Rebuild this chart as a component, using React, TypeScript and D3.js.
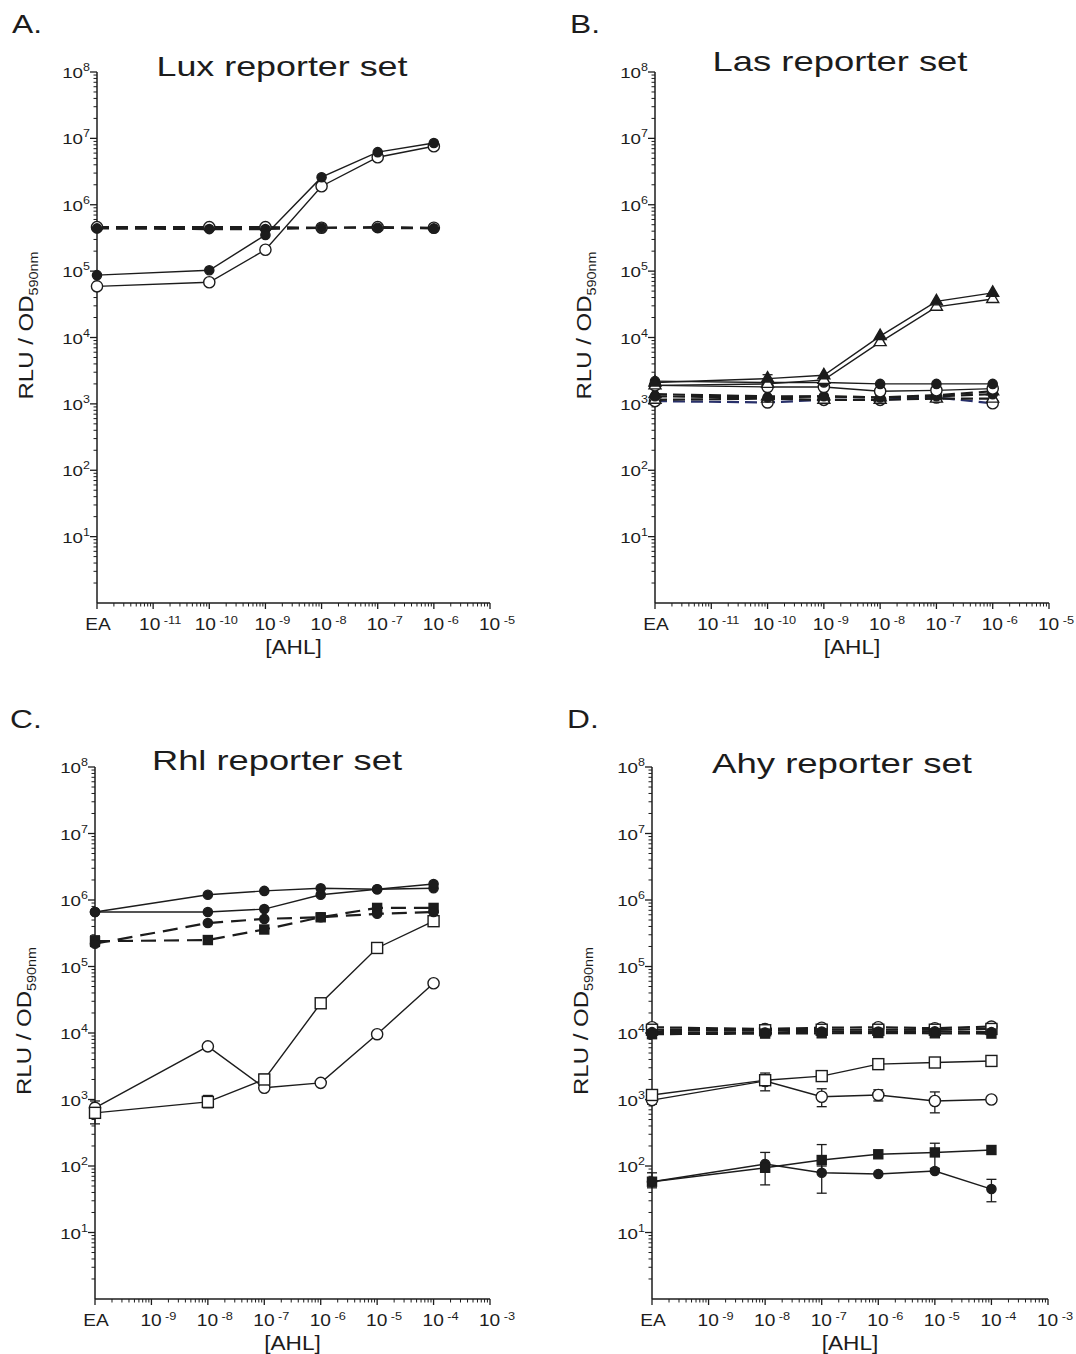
import React from "react";
import * as d3 from "d3";

const FONT = "'Liberation Sans', Arial, Helvetica, sans-serif";
const INK = "#1c1c1c";
const SX = 1.25; // the scanned figure is a little wider than it is tall

type Dose = string | number;
type Err = ([number, number] | null)[];

// doses on the x axis (EA = solvent control, drawn at the left end)
const luxLasDoses: Dose[] = ["EA", 1e-10, 1e-9, 1e-8, 1e-7, 1e-6];
const rhlAhyDoses: Dose[] = ["EA", 1e-8, 1e-7, 1e-6, 1e-5, 1e-4];
const luxLasTicks: Dose[] = ["EA", -11, -10, -9, -8, -7, -6, -5];
const rhlAhyTicks: Dose[] = ["EA", -9, -8, -7, -6, -5, -4, -3];
const yTickExps = [1, 2, 3, 4, 5, 6, 7, 8];

// A. Lux
const luxFilledSolid = [8.7e4, 1.03e5, 3.5e5, 2.6e6, 6.2e6, 8.5e6];
const luxOpenSolid = [5.9e4, 6.8e4, 2.1e5, 1.9e6, 5.2e6, 7.6e6];
const luxOpenDashed = [4.6e5, 4.6e5, 4.6e5, 4.5e5, 4.6e5, 4.5e5];
const luxFilledDashed = [4.4e5, 4.3e5, 4.3e5, 4.5e5, 4.5e5, 4.4e5];

// B. Las
const lasFilledTriSolid = [2.1e3, 2.4e3, 2.7e3, 1.05e4, 3.5e4, 4.7e4];
const lasFilledTriSolidErr: Err = [null, [2.2e3, 2.75e3], null, null, null, null];
const lasOpenTriSolid = [1.9e3, 2.0e3, 2.3e3, 8.5e3, 2.9e4, 3.8e4];
const lasFilledCircSolid = [2.2e3, 2.1e3, 2.1e3, 2.0e3, 2.0e3, 2.0e3];
const lasOpenCircSolid = [1.9e3, 1.8e3, 1.8e3, 1.55e3, 1.6e3, 1.7e3];
const lasFilledTriDashed = [1.4e3, 1.3e3, 1.3e3, 1.25e3, 1.35e3, 1.55e3];
const lasFilledCircDashed = [1.3e3, 1.25e3, 1.3e3, 1.25e3, 1.3e3, 1.4e3];
const lasOpenTriDashed = [1.15e3, 1.2e3, 1.15e3, 1.15e3, 1.2e3, 1.2e3];
const lasOpenCircDashed = [1.1e3, 1.05e3, 1.15e3, 1.15e3, 1.25e3, 1.02e3];

// C. Rhl
const rhlFilledCircSolidHi = [6.6e5, 1.2e6, 1.37e6, 1.5e6, 1.45e6, 1.74e6];
const rhlFilledCircSolidLo = [6.6e5, 6.6e5, 7.3e5, 1.2e6, 1.45e6, 1.5e6];
const rhlFilledCircDashed = [2.2e5, 4.5e5, 5.2e5, 5.5e5, 6.2e5, 6.6e5];
const rhlFilledSqDashed = [2.4e5, 2.5e5, 3.6e5, 5.5e5, 7.6e5, 7.6e5];
const rhlFilledSqDashedErr: Err = [[2.0e5, 2.9e5], null, null, [5.0e5, 6.2e5], null, null];
const rhlOpenSqSolid = [6.3e2, 9.2e2, 2.0e3, 2.8e4, 1.9e5, 4.8e5];
const rhlOpenSqSolidErr: Err = [[4.3e2, 9.5e2], [7.5e2, 1.15e3], [1.7e3, 2.4e3], null, null, null];
const rhlOpenCircSolid = [7.5e2, 6.3e3, 1.5e3, 1.78e3, 9.6e3, 5.6e4];

// D. Ahy
const ahyOpenCircDashed = [1.22e4, 1.15e4, 1.2e4, 1.22e4, 1.18e4, 1.25e4];
const ahyOpenSqDashed = [1.12e4, 1.1e4, 1.12e4, 1.12e4, 1.12e4, 1.15e4];
const ahyFilledCircDashed = [1.03e4, 1.02e4, 1.05e4, 1.05e4, 1.06e4, 1.03e4];
const ahyFilledSqDashed = [9.6e3, 9.8e3, 9.9e3, 1.0e4, 9.9e3, 9.8e3];
const ahyOpenSqSolid = [1.17e3, 1.95e3, 2.25e3, 3.4e3, 3.6e3, 3.8e3];
const ahyOpenCircSolid = [9.8e2, 1.9e3, 1.1e3, 1.17e3, 9.5e2, 1.0e3];
const ahyOpenCircSolidErr: Err = [[8.5e2, 1.2e3], [1.35e3, 2.5e3], [7.8e2, 1.45e3], [9.5e2, 1.4e3], [6.3e2, 1.3e3], null];
const ahyFilledSqSolid = [58, 94, 123, 150, 160, 174];
const ahyFilledSqSolidErr: Err = [null, null, [80, 210], null, [92, 220], null];
const ahyFilledCircSolid = [58, 107, 79, 76, 84, 45];
const ahyFilledCircSolidErr: Err = [[47, 79], [52, 160], [39, 100], null, null, [29, 63]];

type Shape = "circle" | "square" | "triangle";
interface SeriesSpec {
  values: number[];
  err?: Err;
  shape: Shape;
  filled: boolean;
  dashed: boolean;
  color?: string;
}
interface PanelSpec {
  letter: string;
  title: string;
  titleX: number;
  titleY: number;
  titleW: number;
  ox: number;
  xEnd: number;
  yBottom: number;
  yTop: number;
  minExp: number;
  maxExp: number;
  doses: Dose[];
  ticks: Dose[];
  dash: string;
  series: SeriesSpec[];
}

const s = (values: number[], shape: Shape, filled: boolean, dashed: boolean, err?: Err, color?: string): SeriesSpec =>
  ({ values, shape, filled, dashed, err, color });

const panels: PanelSpec[] = [
  {
    letter: "A.", title: "Lux reporter set", titleX: 282, titleY: 76, titleW: 251,
    ox: 97, xEnd: 490, yBottom: 603, yTop: 72, minExp: -12, maxExp: -5,
    doses: luxLasDoses, ticks: luxLasTicks, dash: "12 7",
    series: [
      s(luxOpenDashed, "circle", false, true),
      s(luxFilledDashed, "circle", true, true),
      s(luxOpenSolid, "circle", false, false),
      s(luxFilledSolid, "circle", true, false),
    ],
  },
  {
    letter: "B.", title: "Las reporter set", titleX: 840, titleY: 71, titleW: 255,
    ox: 655, xEnd: 1049, yBottom: 603, yTop: 72, minExp: -12, maxExp: -5,
    doses: luxLasDoses, ticks: luxLasTicks, dash: "12 6",
    series: [
      s(lasOpenCircDashed, "circle", false, true, undefined, "#28306a"),
      s(lasOpenTriDashed, "triangle", false, true),
      s(lasFilledCircDashed, "circle", true, true),
      s(lasFilledTriDashed, "triangle", true, true),
      s(lasOpenCircSolid, "circle", false, false),
      s(lasFilledCircSolid, "circle", true, false),
      s(lasOpenTriSolid, "triangle", false, false),
      s(lasFilledTriSolid, "triangle", true, false, lasFilledTriSolidErr),
    ],
  },
  {
    letter: "C.", title: "Rhl reporter set", titleX: 277, titleY: 770, titleW: 250,
    ox: 95, xEnd: 490, yBottom: 1299, yTop: 767, minExp: -10, maxExp: -3,
    doses: rhlAhyDoses, ticks: rhlAhyTicks, dash: "15 8",
    series: [
      s(rhlOpenCircSolid, "circle", false, false),
      s(rhlOpenSqSolid, "square", false, false, rhlOpenSqSolidErr),
      s(rhlFilledSqDashed, "square", true, true, rhlFilledSqDashedErr),
      s(rhlFilledCircDashed, "circle", true, true),
      s(rhlFilledCircSolidLo, "circle", true, false),
      s(rhlFilledCircSolidHi, "circle", true, false),
    ],
  },
  {
    letter: "D.", title: "Ahy reporter set", titleX: 842, titleY: 773, titleW: 260,
    ox: 652, xEnd: 1048, yBottom: 1299, yTop: 767, minExp: -10, maxExp: -3,
    doses: rhlAhyDoses, ticks: rhlAhyTicks, dash: "12 6",
    series: [
      s(ahyOpenCircDashed, "circle", false, true),
      s(ahyOpenSqDashed, "square", false, true),
      s(ahyFilledCircDashed, "circle", true, true),
      s(ahyFilledSqDashed, "square", true, true),
      s(ahyOpenCircSolid, "circle", false, false, ahyOpenCircSolidErr),
      s(ahyOpenSqSolid, "square", false, false),
      s(ahyFilledCircSolid, "circle", true, false, ahyFilledCircSolidErr),
      s(ahyFilledSqSolid, "square", true, false, ahyFilledSqSolidErr),
    ],
  },
];

function T({ x, y, size, anchor = "start", rotate = 0, sx = SX, children }: any) {
  return (
    <g transform={`translate(${x},${y}) rotate(${rotate}) scale(${sx},1)`}>
      <text x={0} y={0} fontSize={size} textAnchor={anchor} fontFamily={FONT} fill={INK}>
        {children}
      </text>
    </g>
  );
}

function Marker({ shape, filled, cx, cy }: { shape: Shape; filled: boolean; cx: number; cy: number }) {
  const fill = filled ? INK : "#fff";
  if (shape === "circle") {
    return <circle cx={cx} cy={cy} r={filled ? 4.6 : 5.6} fill={fill} stroke={INK} strokeWidth={1.4} />;
  }
  if (shape === "square") {
    const w = filled ? 9 : 11;
    return <rect x={cx - w / 2} y={cy - w / 2} width={w} height={w} fill={fill} stroke={INK} strokeWidth={1.4} />;
  }
  const side = 12;
  const h = side * 0.866;
  const pts = [
    [cx, cy - (2 * h) / 3],
    [cx - side / 2, cy + h / 3],
    [cx + side / 2, cy + h / 3],
  ].map((p) => p.join(",")).join(" ");
  return <polygon points={pts} fill={fill} stroke={INK} strokeWidth={1.4} />;
}

function Panel({ p }: { p: PanelSpec }) {
  const x = d3.scaleLog().domain([10 ** p.minExp, 10 ** p.maxExp]).range([p.ox, p.xEnd]);
  const y = d3.scaleLog().domain([1, 1e8]).range([p.yBottom, p.yTop]);
  const xOf = (d: Dose) => (d === "EA" ? x(10 ** p.minExp) : x(d as number));
  const line = d3.line<[number, number]>().x((d) => d[0]).y((d) => d[1]);

  const yMinor: number[] = [];
  for (let e = 0; e < 8; e++) for (let m = 2; m <= 9; m++) yMinor.push(m * 10 ** e);
  const xMinor: number[] = [];
  for (let e = p.minExp; e < p.maxExp; e++) for (let m = 2; m <= 9; m++) xMinor.push(m * 10 ** e);
  const xMajor = d3.range(p.minExp, p.maxExp + 1).map((e) => 10 ** e);

  const midY = (p.yTop + p.yBottom) / 2;

  return (
    <g>
      <T x={p.ox - 85} y={p.yTop - 39} size={25} sx={1.27}>{p.letter}</T>
      <text
        x={p.titleX - p.titleW / 2}
        y={p.titleY}
        fontSize={28}
        fontFamily={FONT}
        fill={INK}
        textLength={p.titleW}
        lengthAdjust="spacingAndGlyphs"
      >
        {p.title}
      </text>

      {/* y axis */}
      <line x1={p.ox} x2={p.ox} y1={p.yBottom} y2={p.yTop} stroke={INK} strokeWidth={1.5} />
      {yMinor.map((v, i) => (
        <line key={"ym" + i} x1={p.ox - 3.5} x2={p.ox} y1={y(v)} y2={y(v)} stroke={INK} strokeWidth={1} />
      ))}
      {yTickExps.map((e) => (
        <g key={"yt" + e}>
          <line x1={p.ox - 7} x2={p.ox} y1={y(10 ** e)} y2={y(10 ** e)} stroke={INK} strokeWidth={1.3} />
          <T x={p.ox - 7} y={y(10 ** e) + 6} size={15} anchor="end">
            10<tspan dy={-7} fontSize={10}>{e}</tspan>
          </T>
        </g>
      ))}
      <T x={p.ox - 64} y={midY - 12} size={20} anchor="middle" rotate={-90} sx={1.2}>
        RLU / OD<tspan dy={5} fontSize={12}>590nm</tspan>
      </T>

      {/* x axis */}
      <line x1={p.ox} x2={p.xEnd} y1={p.yBottom} y2={p.yBottom} stroke={INK} strokeWidth={1.5} />
      {xMinor.map((v, i) => (
        <line key={"xm" + i} x1={x(v)} x2={x(v)} y1={p.yBottom} y2={p.yBottom + 3.5} stroke={INK} strokeWidth={1} />
      ))}
      {xMajor.map((v, i) => (
        <line key={"xM" + i} x1={x(v)} x2={x(v)} y1={p.yBottom} y2={p.yBottom + 6} stroke={INK} strokeWidth={1.3} />
      ))}
      {p.ticks.map((t, i) => {
        const tx = xOf(t === "EA" ? "EA" : 10 ** (t as number));
        return t === "EA" ? (
          <T key={"xl" + i} x={tx + 1} y={p.yBottom + 27} size={16.5} anchor="middle" sx={1.16}>EA</T>
        ) : (
          <T key={"xl" + i} x={tx + 7} y={p.yBottom + 27} size={16.5} anchor="middle" sx={1.16}>
            10<tspan dx={3} dy={-6} fontSize={11}>{t}</tspan>
          </T>
        );
      })}
      <T x={(p.ox + p.xEnd) / 2} y={p.yBottom + 51} size={19.5} anchor="middle" sx={1.16}>[AHL]</T>

      {/* lines */}
      {p.series.map((sr, i) => (
        <path
          key={"l" + i}
          d={line(sr.values.map((v, j) => [xOf(p.doses[j]), y(v)]) as [number, number][]) || ""}
          fill="none"
          stroke={sr.color || INK}
          strokeWidth={sr.dashed ? 2.2 : 1.4}
          strokeDasharray={sr.dashed ? p.dash : undefined}
        />
      ))}
      {/* error bars */}
      {p.series.map((sr, i) =>
        (sr.err || []).map((er, j) => {
          if (!er) return null;
          const cx = xOf(p.doses[j]);
          return (
            <g key={"e" + i + "-" + j} stroke={INK} strokeWidth={1.3}>
              <line x1={cx} x2={cx} y1={y(er[0])} y2={y(er[1])} />
              <line x1={cx - 5} x2={cx + 5} y1={y(er[0])} y2={y(er[0])} />
              <line x1={cx - 5} x2={cx + 5} y1={y(er[1])} y2={y(er[1])} />
            </g>
          );
        })
      )}
      {/* markers */}
      {p.series.map((sr, i) =>
        sr.values.map((v, j) => (
          <Marker key={"m" + i + "-" + j} shape={sr.shape} filled={sr.filled} cx={xOf(p.doses[j])} cy={y(v)} />
        ))
      )}
    </g>
  );
}

export default function App() {
  return (
    <svg width={1076} height={1354} style={{ position: "absolute", left: 0, top: 0, background: "#fff" }}>
      <rect width={1076} height={1354} fill="#fff" />
      {panels.map((p) => (
        <Panel key={p.letter} p={p} />
      ))}
    </svg>
  );
}
